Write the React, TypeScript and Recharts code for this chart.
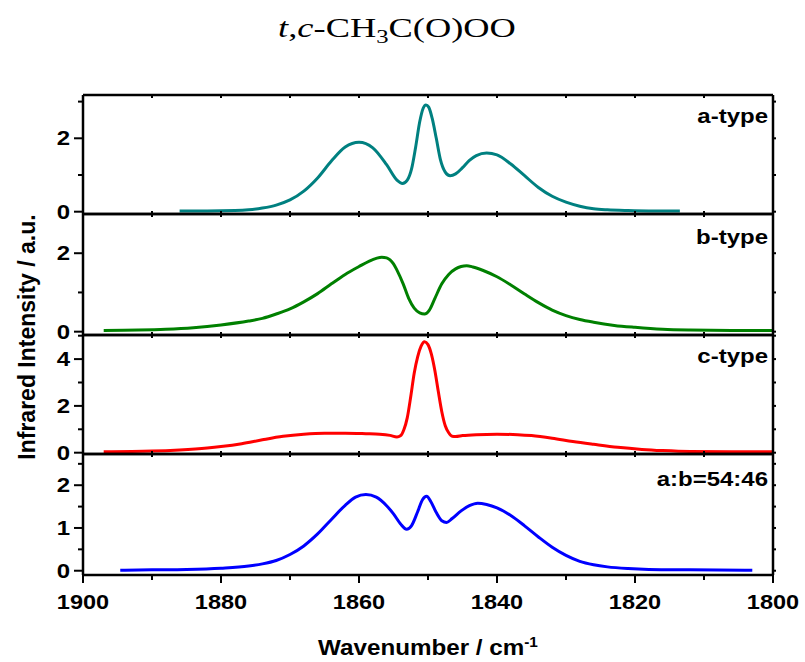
import { LineChart, Line, XAxis, YAxis } from 'recharts';

// wavenumbers (cm-1) and intensities
const WN_A = [1886, 1882, 1878, 1876, 1874, 1872, 1870, 1868, 1866, 1864, 1862, 1860, 1858, 1856, 1854.5, 1853.7, 1853, 1852.4, 1851.8, 1851.2, 1850.7, 1850.3, 1849.9, 1849.4, 1848.8, 1848.2, 1847.5, 1846.8, 1846, 1845, 1844, 1843, 1841.5, 1840, 1838, 1836, 1834, 1832, 1830, 1828, 1826, 1824, 1821, 1818, 1813.5];
const INT_A = [0.02, 0.02, 0.03, 0.05, 0.1, 0.18, 0.32, 0.56, 0.92, 1.38, 1.76, 1.89, 1.74, 1.28, 0.86, 0.77, 0.86, 1.15, 1.75, 2.45, 2.82, 2.91, 2.85, 2.55, 2.0, 1.42, 1.08, 0.98, 1.03, 1.2, 1.4, 1.53, 1.6, 1.55, 1.3, 0.98, 0.66, 0.42, 0.26, 0.15, 0.08, 0.05, 0.03, 0.02, 0.02];

const WN_B = [1897, 1892, 1888, 1884, 1880, 1876, 1874, 1872, 1870, 1868, 1866, 1864, 1862, 1860, 1858.5, 1857.5, 1856.7, 1856, 1855.5, 1855, 1854.5, 1853.6, 1852.8, 1852, 1851.2, 1850.5, 1849.8, 1849, 1848, 1847, 1846, 1845.2, 1844.4, 1843.5, 1842, 1840, 1838, 1836, 1834, 1832, 1830, 1828, 1826, 1823, 1820, 1816, 1812, 1806, 1800];
const INT_B = [0.03, 0.04, 0.06, 0.1, 0.17, 0.27, 0.34, 0.45, 0.58, 0.76, 0.97, 1.22, 1.46, 1.66, 1.8, 1.87, 1.9, 1.88, 1.83, 1.73, 1.57, 1.22, 0.85, 0.6, 0.48, 0.45, 0.55, 0.85, 1.22, 1.46, 1.6, 1.66, 1.68, 1.65, 1.56, 1.4, 1.19, 0.96, 0.74, 0.55, 0.41, 0.31, 0.24, 0.16, 0.11, 0.06, 0.04, 0.03, 0.03];

const WN_C = [1897, 1890, 1886, 1882, 1880, 1877, 1874, 1871, 1868, 1865, 1862, 1859, 1857, 1855.5, 1854.5, 1854, 1853.5, 1853, 1852.5, 1852, 1851.5, 1851, 1850.5, 1850, 1849.5, 1849, 1848.5, 1848, 1847.5, 1847, 1846.5, 1846, 1845, 1843, 1840, 1837, 1835, 1832, 1829, 1826, 1822.5, 1819, 1816, 1812, 1806, 1800];
const INT_C = [0.04, 0.07, 0.12, 0.2, 0.26, 0.38, 0.55, 0.7, 0.79, 0.83, 0.83, 0.81, 0.79, 0.74, 0.67, 0.72, 0.98, 1.5, 2.4, 3.4, 4.1, 4.55, 4.74, 4.62, 4.2, 3.5, 2.6, 1.75, 1.15, 0.85, 0.7, 0.69, 0.73, 0.77, 0.79, 0.77, 0.73, 0.62, 0.48, 0.36, 0.23, 0.14, 0.09, 0.05, 0.04, 0.04];

const WN_AB = [1894.6, 1890, 1885, 1880, 1876, 1874, 1872, 1870, 1868, 1866, 1864, 1862, 1860.5, 1859, 1857.5, 1856, 1855, 1854, 1853.1, 1852.4, 1851.5, 1850.8, 1850.2, 1849.6, 1848.8, 1848, 1847.3, 1846.5, 1845.2, 1844, 1842.8, 1841.5, 1840, 1838, 1836, 1834, 1832, 1830, 1828, 1826, 1824, 1821, 1818, 1812, 1803];
const INT_AB = [0.01, 0.02, 0.03, 0.06, 0.11, 0.16, 0.24, 0.38, 0.58, 0.86, 1.2, 1.53, 1.72, 1.78, 1.72, 1.52, 1.33, 1.1, 0.97, 1.05, 1.38, 1.66, 1.74, 1.62, 1.36, 1.17, 1.13, 1.22, 1.4, 1.52, 1.58, 1.55, 1.47, 1.29, 1.05, 0.79, 0.55, 0.36, 0.22, 0.14, 0.09, 0.05, 0.03, 0.02, 0.01];

const X_TICKS = [1900, 1890, 1880, 1870, 1860, 1850, 1840, 1830, 1820, 1810, 1800];
const X_LABELS = [1900, 1880, 1860, 1840, 1820, 1800];

const PL = 83;
const PR = 773;
const PAD = 12;
const SANS = '"Liberation Sans", Arial, sans-serif';
const AXIS = { stroke: '#000', strokeWidth: 2.5 };

const panels = [
  { label: 'a-type', wn: WN_A, vals: INT_A, color: '#008080', domain: [-0.063, 3.18], ticks: [0, 1, 2, 3], major: [0, 2], top: 95, bottom: 214, labelY: 123 },
  { label: 'b-type', wn: WN_B, vals: INT_B, color: '#008000', domain: [-0.085, 3.0], ticks: [0, 1, 2], major: [0, 2], top: 214, bottom: 335, labelY: 244 },
  { label: 'c-type', wn: WN_C, vals: INT_C, color: '#FF0000', domain: [-0.056, 5.03], ticks: [0, 1, 2, 3, 4, 5], major: [0, 2, 4], top: 335, bottom: 454, labelY: 363 },
  { label: 'a:b=54:46', wn: WN_AB, vals: INT_AB, color: '#0000FF', domain: [-0.1, 2.73], ticks: [0, 0.5, 1, 1.5, 2, 2.5], major: [0, 1, 2], top: 454, bottom: 575, labelY: 486 },
];

function Panel({ p, last }: { p: any; last: boolean }) {
  const h = p.bottom - p.top;
  const data = p.wn.map((x: number, i: number) => ({ x, y: p.vals[i] }));
  const plotTop = PAD;
  const plotBottom = PAD + h;
  const xh = last ? 70 : 1;

  const bottomTick = (t: any) => {
    const v = t.payload.value;
    if (!last) {
      return <line x1={t.x} x2={t.x} y1={plotBottom} y2={plotBottom - 3} stroke="#000" strokeWidth={2} />;
    }
    const major = X_LABELS.includes(v);
    return (
      <g>
        <line x1={t.x} x2={t.x} y1={plotBottom} y2={plotBottom + (major ? 8 : 5)} stroke="#000" strokeWidth={2} />
        {major && (
          <text transform={`translate(${t.x},${plotBottom + 34}) scale(1.12,1)`} textAnchor="middle" fontFamily={SANS} fontWeight="bold" fontSize={21} fill="#000">
            {v}
          </text>
        )}
      </g>
    );
  };

  const topTick = (t: any) => (
    <line x1={t.x} x2={t.x} y1={plotTop} y2={plotTop + 3} stroke="#000" strokeWidth={2} />
  );

  const leftTick = (t: any) => {
    const v = t.payload.value;
    const major = p.major.includes(v);
    return (
      <g>
        <line x1={PL - (major ? 9 : 5)} x2={PL} y1={t.y} y2={t.y} stroke="#000" strokeWidth={2} />
        {major && (
          <text transform={`translate(${PL - 13},${t.y + 7}) scale(1.2,1)`} textAnchor="end" fontFamily={SANS} fontWeight="bold" fontSize={20} fill="#000">
            {v}
          </text>
        )}
      </g>
    );
  };

  const rightTick = (t: any) => (
    <line x1={PR} x2={PR + 3} y1={t.y} y2={t.y} stroke="#000" strokeWidth={2} />
  );

  return (
    <div style={{ position: 'absolute', left: 0, top: p.top - PAD }}>
      <LineChart
        width={805}
        height={PAD + h + (last ? xh : PAD)}
        data={data}
        margin={{ top: PAD - 1, right: 0, bottom: last ? 0 : PAD - 1, left: 0 }}
      >
        <XAxis xAxisId="b" type="number" dataKey="x" domain={[1800, 1900]} reversed allowDataOverflow ticks={X_TICKS} interval={0} height={xh} tickLine={false} axisLine={AXIS} tick={bottomTick} />
        <XAxis xAxisId="t" orientation="top" type="number" dataKey="x" domain={[1800, 1900]} reversed allowDataOverflow ticks={X_TICKS} interval={0} height={1} tickLine={false} axisLine={AXIS} tick={topTick} />
        <YAxis yAxisId="l" width={PL} type="number" domain={p.domain} allowDataOverflow ticks={p.ticks} interval={0} tickLine={false} axisLine={AXIS} tick={leftTick} />
        <YAxis yAxisId="r" orientation="right" width={805 - PR} type="number" domain={p.domain} allowDataOverflow ticks={p.ticks} interval={0} tickLine={false} axisLine={AXIS} tick={rightTick} />
        <Line xAxisId="b" yAxisId="l" type="monotone" dataKey="y" stroke={p.color} strokeWidth={3} dot={false} isAnimationActive={false} />
      </LineChart>
    </div>
  );
}

export default function App() {
  return (
    <div style={{ position: 'absolute', left: 0, top: 0, width: 805, height: 662, background: '#fff' }}>
      {panels.map((p, i) => (
        <Panel key={p.label} p={p} last={i === panels.length - 1} />
      ))}
      <svg width={805} height={662} style={{ position: 'absolute', left: 0, top: 0, pointerEvents: 'none' }}>
        <text transform="translate(397,37) scale(1.3,1)" textAnchor="middle" fontFamily={'"Liberation Serif", "Times New Roman", serif'} fontSize={28} fill="#000">
          <tspan fontStyle="italic">t</tspan>,<tspan fontStyle="italic">c</tspan>-CH
          <tspan dy={6} fontSize={19}>3</tspan>
          <tspan dy={-6}>C(O)OO</tspan>
        </text>
        {panels.map((p) => (
          <text key={p.label} transform={`translate(768,${p.labelY}) scale(1.2,1)`} textAnchor="end" fontFamily={SANS} fontWeight="bold" fontSize={20} fill="#000">
            {p.label}
          </text>
        ))}
        <text transform="translate(428,655) scale(1.1,1)" textAnchor="middle" fontFamily={SANS} fontWeight="bold" fontSize={22} fill="#000">
          Wavenumber / cm<tspan dy={-8} fontSize={14}>-1</tspan>
        </text>
        <text transform="translate(35,337) rotate(-90)" textAnchor="middle" fontFamily={SANS} fontWeight="bold" fontSize={23} fill="#000">
          Infrared Intensity / a.u.
        </text>
      </svg>
    </div>
  );
}
